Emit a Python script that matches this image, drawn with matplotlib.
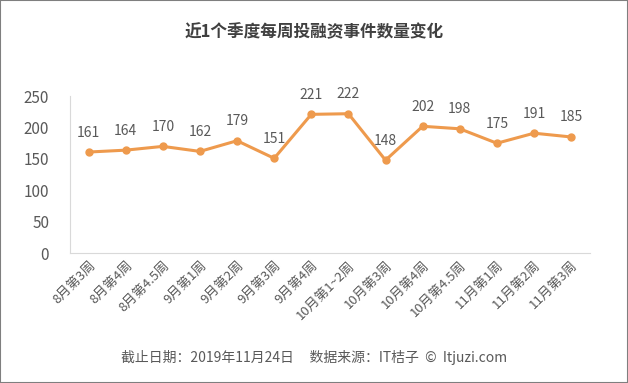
import matplotlib
matplotlib.use("Agg")
import matplotlib.pyplot as plt

plt.rcParams["font.family"] = ["Noto Sans CJK SC", "DejaVu Sans"]

weeks = ["8月第3周", "8月第4周", "8月第4.5周", "9月第1周", "9月第2周", "9月第3周",
         "9月第4周", "10月第1~2周", "10月第3周", "10月第4周", "10月第4.5周",
         "11月第1周", "11月第2周", "11月第3周"]
counts = [161, 164, 170, 162, 179, 151, 221, 222, 148, 202, 198, 175, 191, 185]

line_color = "#EE9A4D"
text_color = "#595959"

fig = plt.figure(figsize=(6.28, 3.83), dpi=100)
ax = fig.add_axes([0.1115, 0.339, 0.8275, 0.41])

x = range(len(weeks))
ax.plot(x, counts, color=line_color, linewidth=2.2, marker="o", markersize=5)
for xi, v in zip(x, counts):
    ax.annotate(str(v), (xi, v), textcoords="offset points", xytext=(0, 9),
                ha="center", va="bottom", fontsize=10, color=text_color)

ax.set_xlim(-0.5, len(weeks) - 0.5)
ax.set_ylim(0, 250)
ax.set_yticks([0, 50, 100, 150, 200, 250])
ax.set_xticks(list(x))
ax.set_xticklabels(weeks, rotation=45, ha="right", rotation_mode="anchor", fontsize=9.5, color=text_color)
ax.tick_params(axis="y", labelsize=11, colors=text_color, length=0, pad=15)
ax.tick_params(axis="x", length=0, pad=4)
for side in ["top", "right"]:
    ax.spines[side].set_visible(False)
ax.spines["left"].set_color("#D9D9D9")
ax.spines["bottom"].set_color("#D9D9D9")

fig.text(0.5, 0.915, "近1个季度每周投融资事件数量变化", ha="center", va="center",
         fontsize=12, fontweight="bold", color="#404040")
fig.text(0.5, 0.066, "截止日期：2019年11月24日     数据来源：IT桔子  ©  Itjuzi.com",
         ha="center", va="center", fontsize=10, color=text_color)

border = plt.Rectangle((0, 0), 1, 1, transform=fig.transFigure, fill=False,
                       edgecolor="#7F7F7F", linewidth=1.5)
fig.patches.append(border)

fig.savefig("out.png", dpi=100)
